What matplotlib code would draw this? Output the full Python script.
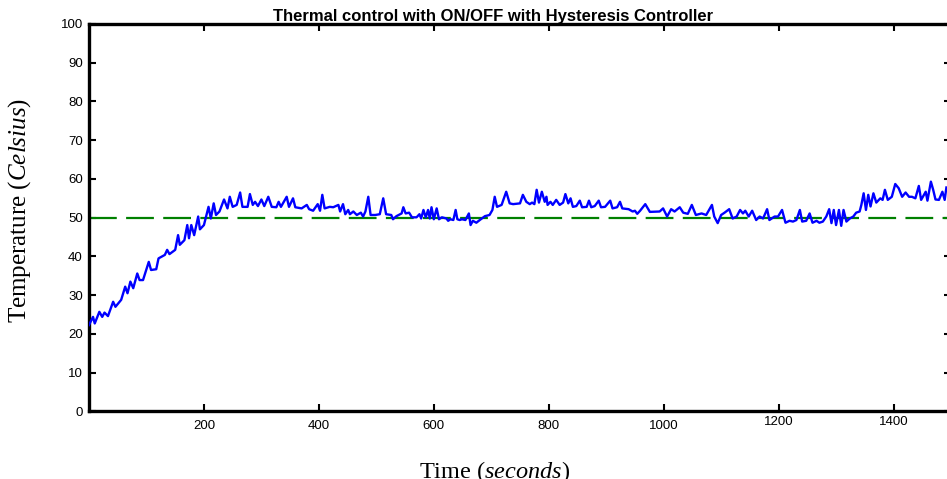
import matplotlib
matplotlib.use("Agg")
import matplotlib.pyplot as plt
import matplotlib.transforms as mtransforms

time_s = [
    0, 7, 10, 18, 23, 27, 33, 42, 46, 56, 63, 67, 72, 77, 84, 88, 94, 104, 108, 117,
    121, 132, 136, 140, 150, 155, 158, 166, 171, 174, 178, 183, 190, 193, 200, 208, 212, 217, 221, 227,
    235, 241, 245, 250, 257, 263, 267, 276, 280, 285, 289, 294, 300, 305, 312, 318, 326, 330, 334, 344,
    348, 355, 359, 370, 379, 383, 390, 398, 402, 406, 410, 419, 425, 434, 437, 442, 446, 451, 454, 460,
    466, 473, 477, 481, 486, 490, 498, 506, 512, 517, 526, 529, 535, 544, 547, 551, 557, 562, 570, 575,
    578, 582, 586, 590, 593, 596, 600, 605, 609, 614, 622, 625, 629, 634, 638, 641, 645, 649, 655, 661,
    664, 668, 674, 680, 689, 697, 702, 706, 710, 718, 726, 732, 738, 750, 755, 761, 767, 771, 775, 779,
    783, 788, 793, 796, 798, 803, 807, 813, 819, 825, 829, 834, 838, 842, 848, 854, 858, 866, 870, 874,
    880, 887, 891, 898, 907, 911, 919, 924, 928, 939, 946, 950, 954, 959, 968, 976, 993, 999, 1006, 1013,
    1019, 1028, 1034, 1042, 1049, 1056, 1066, 1074, 1084, 1088, 1094, 1100, 1106, 1114, 1120, 1127, 1133, 1138, 1142, 1148,
    1154, 1161, 1167, 1173, 1180, 1184, 1193, 1199, 1206, 1212, 1219, 1225, 1231, 1237, 1241, 1248, 1254, 1259, 1266, 1271,
    1277, 1283, 1288, 1292, 1296, 1300, 1305, 1309, 1313, 1318, 1324, 1330, 1335, 1341, 1344, 1348, 1352, 1356, 1360, 1365,
    1370, 1377, 1381, 1385, 1390, 1397, 1403, 1409, 1415, 1421, 1427, 1432, 1438, 1444, 1448, 1456, 1459, 1465, 1469, 1473,
    1479, 1485, 1489, 1492,
]
temp_c = [
    22.3, 24.4, 22.7, 25.7, 24.4, 25.5, 24.6, 28.3, 27.0, 28.8, 32.2, 30.5, 33.5, 31.8, 35.6, 33.9, 33.9, 38.6, 36.5, 36.7,
    39.5, 40.4, 41.7, 40.6, 41.7, 45.5, 43.0, 44.2, 48.1, 44.7, 48.1, 45.5, 50.3, 47.0, 48.1, 52.8, 49.8, 53.7, 50.7, 51.6,
    54.7, 52.4, 55.4, 52.8, 53.3, 56.5, 52.8, 52.8, 56.1, 53.3, 54.1, 53.0, 54.7, 53.0, 55.4, 52.8, 52.7, 54.1, 52.8, 55.4,
    52.8, 55.0, 52.7, 52.4, 53.3, 52.2, 51.8, 53.5, 51.8, 55.9, 52.4, 52.8, 52.7, 53.3, 51.6, 53.5, 50.9, 52.0, 50.9, 51.6,
    50.7, 51.3, 50.3, 51.6, 55.4, 50.7, 50.7, 50.9, 55.0, 50.9, 50.7, 49.6, 50.4, 51.1, 52.7, 51.1, 51.3, 50.1, 50.1, 50.9,
    49.8, 52.0, 50.1, 52.0, 49.8, 52.7, 49.6, 52.4, 49.6, 50.1, 49.8, 49.2, 49.6, 49.4, 52.0, 49.6, 49.4, 49.6, 49.4, 51.1,
    48.1, 49.2, 48.7, 49.4, 50.4, 50.7, 52.0, 55.4, 52.8, 53.3, 56.7, 53.7, 53.5, 53.7, 55.9, 54.1, 53.5, 53.9, 53.5, 57.2,
    53.9, 56.7, 54.1, 55.4, 53.3, 54.1, 53.3, 54.6, 53.3, 53.9, 56.1, 53.7, 55.0, 52.8, 53.0, 54.4, 52.7, 52.8, 54.4, 52.7,
    53.0, 54.4, 52.7, 52.8, 54.4, 52.4, 52.7, 54.1, 52.4, 52.2, 51.6, 51.8, 51.0, 51.8, 53.5, 51.5, 51.6, 52.4, 50.3, 52.2,
    51.6, 52.7, 51.3, 51.0, 53.3, 50.7, 51.1, 50.7, 53.3, 50.3, 48.6, 50.7, 51.3, 52.2, 49.8, 50.3, 52.0, 51.1, 51.8, 50.3,
    51.8, 49.4, 50.3, 49.8, 52.2, 49.4, 50.3, 50.3, 52.0, 48.7, 49.2, 49.0, 49.4, 52.0, 49.0, 49.2, 51.1, 48.7, 49.2, 48.7,
    49.0, 50.3, 52.2, 48.6, 52.0, 48.1, 52.0, 47.9, 52.0, 49.0, 49.8, 50.3, 51.3, 51.6, 53.3, 56.3, 52.0, 55.9, 52.9, 56.3,
    53.9, 55.0, 54.6, 57.2, 54.6, 55.4, 58.7, 57.6, 55.4, 56.5, 55.4, 55.4, 55.0, 58.2, 54.6, 56.7, 54.4, 59.3, 57.2, 54.7,
    54.6, 56.7, 54.6, 57.8,
]
setpoint_c = 50
x_ticks = [200, 400, 600, 800, 1000, 1200, 1400]
y_ticks = [0, 10, 20, 30, 40, 50, 60, 70, 80, 90, 100]

plt.rcParams['mathtext.fontset'] = 'custom'
plt.rcParams['mathtext.rm'] = 'Liberation Serif'
plt.rcParams['mathtext.it'] = 'Liberation Serif:italic'

W, H = 947, 479
fig = plt.figure(figsize=(W / 100, H / 100), dpi=100)
ax = fig.add_axes([89 / W, 1 - 411.4 / H, (951 - 89) / W, (411.4 - 24) / H])

ax.plot(time_s, temp_c, color='#0000ff', lw=1.7, zorder=3)
ax.axhline(setpoint_c, color='#008000', lw=1.6, dashes=(12.5, 4.2), zorder=2)

ax.set_xlim(0, 1500)
ax.set_ylim(0, 100)
ax.set_xticks(x_ticks)
ax.set_yticks(y_ticks)
ax.tick_params(direction='in', length=5, width=1.5, labelsize=9.5,
               top=True, right=True, labelfontfamily='Liberation Sans')
ax.tick_params(axis='x', pad=6.5)
ax.tick_params(axis='y', pad=4.5)
for side in ax.spines.values():
    side.set_linewidth(2.4)

# the last two x labels sit a little higher in the original
for lbl in ax.get_xticklabels():
    if lbl.get_text() in ('1200', '1400'):
        lbl.set_transform(lbl.get_transform() +
                          mtransforms.ScaledTranslation(0, 4 / 100, fig.dpi_scale_trans))

# title sits behind the axes so its descenders are hidden, as in the original
fig.text(493 / W, 1 - 21 / H, 'Thermal control with ON/OFF with Hysteresis Controller',
         ha='center', va='baseline', fontsize=12, fontweight='bold',
         family='Liberation Sans', zorder=-1)
fig.text(20 / W, 1 - 210 / H, r'Temperature ($\mathit{Celsius}$)', rotation=90,
         ha='center', va='center', fontsize=18, family='Liberation Serif')
fig.text(495 / W, 1 - 472 / H, r'Time ($\mathit{seconds}$)',
         ha='center', va='center', fontsize=17.5, family='Liberation Serif')

fig.savefig('out.png', dpi=100)
